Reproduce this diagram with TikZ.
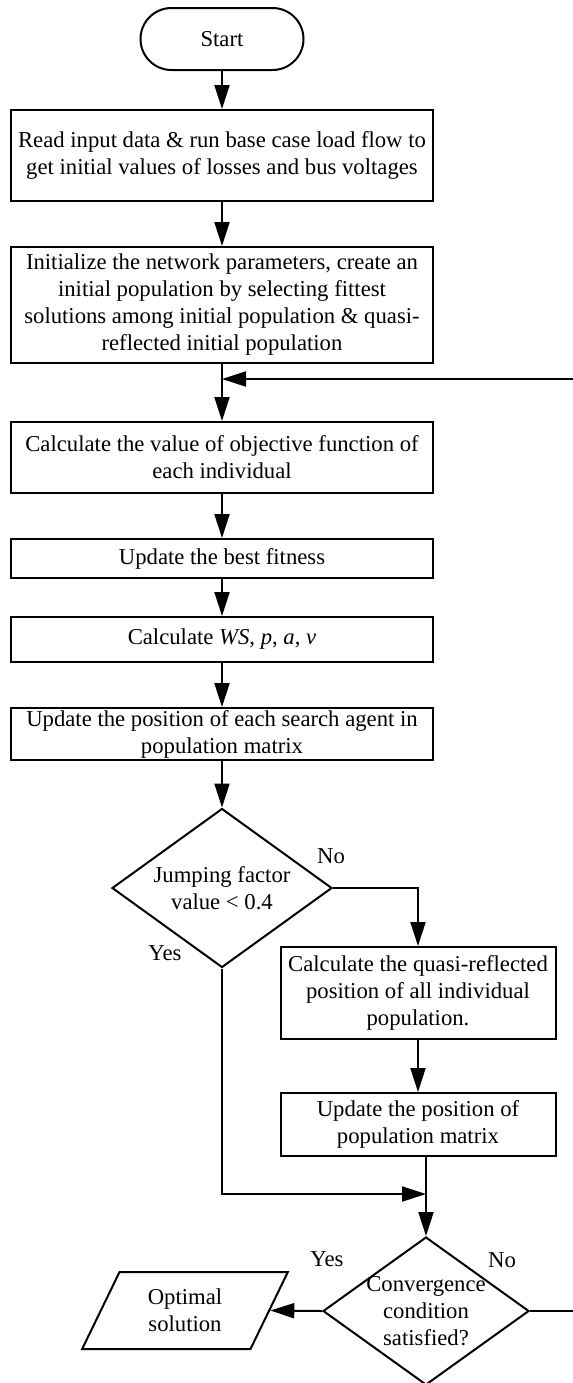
\documentclass[tikz,border=0pt]{standalone}
\usepackage{fontspec}
\setmainfont{Liberation Serif}
\usetikzlibrary{arrows.meta,shapes.geometric}

\begin{document}
\begin{tikzpicture}[x=0.5pt,y=-0.5pt,line width=1pt,every node/.style={font=\fontsize{11.35}{13.5}\selectfont}]
\tikzset{blk/.style={draw,rectangle,align=center,inner sep=0pt,minimum width=211pt},
  term/.style={draw,rounded corners=15.5pt,minimum width=81.5pt,minimum height=31pt},
  dec/.style={draw,diamond,aspect=1.38,inner sep=0pt,align=center},
  io/.style={draw,trapezium,trapezium left angle=63.7,trapezium right angle=116.3,trapezium stretches=true,minimum width=103pt,minimum height=38.5pt,align=center,inner sep=0pt},
  arr/.style={-{Triangle[length=12pt,width=7.5pt]}}}
\useasboundingbox (0,0) rectangle (573,1383);
\node[term] (start) at (222,39) {Start};
\node[blk,minimum height=45.5pt] (read) at (222,155.5) {Read input data \& run base case load flow to\\get initial values of losses and bus voltages};
\node[blk,minimum height=58pt] (init) at (222,305) {Initialize the network parameters, create an\\initial population by selecting fittest\\solutions among initial population \& quasi-\\reflected initial population};
\node[blk,minimum height=35.5pt] (obj) at (222,457.5) {Calculate the value of objective function of\\each individual};
\node[blk,minimum height=19.5pt] (best) at (222,558.5) {Update the best fitness};
\node[blk,minimum height=22.5pt] (calc) at (222,639.5) {Calculate \textit{WS}, \textit{p}, \textit{a}, \textit{v}};
\node[blk,minimum height=26pt] (pos) at (222,734) {Update the position of each search agent in\\population matrix};
\node[dec,minimum width=110pt,minimum height=79.5pt] (jump) at (222,888) {Jumping factor\\value < 0.4};
\node[blk,minimum width=137.5pt,minimum height=46pt] (quasi) at (418,993) {Calculate the quasi-reflected\\position of all individual\\population.};
\node[blk,minimum width=137.5pt,minimum height=31.5pt] (upd) at (418,1124.5) {Update the position of\\population matrix};
\node[dec,minimum width=103pt,minimum height=74pt,label={[align=center]center:{Convergence\\condition\\satisfied?}}] (conv) at (426,1311) {};
\node[io] (opt) at (185,1310.5) {Optimal\\solution};
\node (no1) at (331,856) {No};
\node (yes1) at (165,953) {Yes};
\node (yes2) at (327,1259) {Yes};
\node (no2) at (502,1260) {No};
\coordinate (loop) at (222,379);
\coordinate (back) at (600,379);
\coordinate (merge) at (426,1194);
\foreach \a/\b in {start/read,read/init,init/obj,obj/best,best/calc,calc/pos,pos/jump,quasi/upd}
  \draw[arr] (\a) -- (\b);
\draw[arr] (jump.east) -| (quasi.north);
\draw[arr] (jump.south) |- (merge);
\draw[arr] (upd.south -| conv.north) -- (conv.north);
\draw[arr] (conv.west) -- (opt.east);
\draw[arr] (conv.east) -| (back) -- (loop);
\end{tikzpicture}
\end{document}
